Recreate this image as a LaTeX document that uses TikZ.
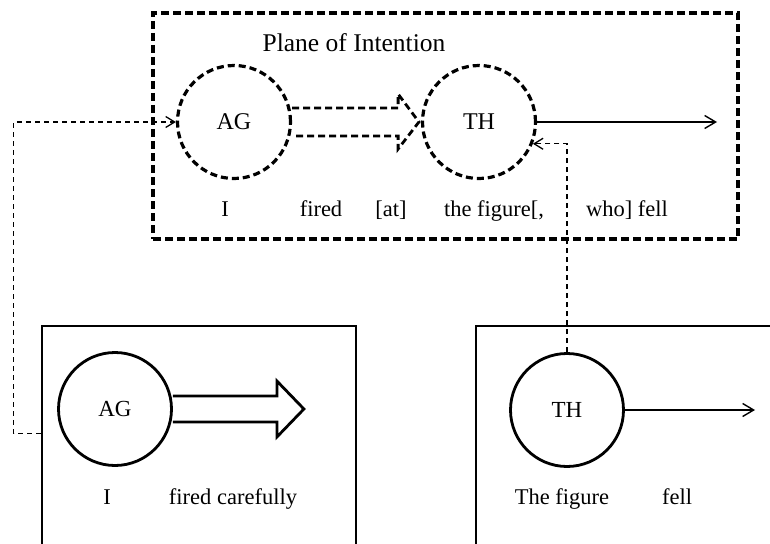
\documentclass[tikz,border=0pt]{standalone}
\usepackage{fontspec}
\setmainfont{Liberation Serif}
\usetikzlibrary{arrows.meta,calc}

\tikzset{
  planebox/.style={draw, line width=3.2pt, dash pattern=on 8pt off 4pt},
  solidbox/.style={draw, line width=2.8pt, rectangle, inner sep=0pt},
  dashrole/.style={circle, draw, line width=3.2pt, dash pattern=on 7pt off 4pt,
                   minimum size=113pt, inner sep=0pt, font=\fontsize{24}{27}\selectfont},
  solidrole/.style={circle, draw, line width=2.8pt,
                   minimum size=113pt, inner sep=0pt, font=\fontsize{23}{26}\selectfont},
  word/.style={font=\fontsize{22.5}{26}\selectfont, inner sep=0pt, anchor=base},
  thinarrow/.style={line width=1.4pt, -{Straight Barb[length=11pt,width=13pt,line width=1.4pt]}},
  linkarrow/.style={line width=1.3pt, dash pattern=on 5pt off 4pt,
                    -{Straight Barb[length=9pt,width=11pt,line width=1.3pt]}},
  fatarrow/.style={line width=2.8pt, line join=miter},
}

\begin{document}
\begin{tikzpicture}[x=1pt,y=-1pt]
\clip (0,0) rectangle (770,543);
\fill[white] (0,0) rectangle (770,543);

% plane of intention
\node[planebox, rectangle, minimum width=585pt, minimum height=226pt, inner sep=0pt]
  (plane) at (445.5,126) {};
\node[font=\fontsize{25.5}{29}\selectfont, anchor=base] (title) at (354,52) {Plane of Intention};

\node[dashrole] (ag) at (234,122) {AG};
\node[dashrole] (th) at (479,122) {TH};

% dashed hollow arrow AG -> TH
\draw[fatarrow, dash pattern=on 7pt off 4pt]
  ($(ag.east)+(0,-14)$) -- ++(106,0) -- ++(0,-14) -- ($(th.west)+(-2,0)$)
  -- ($(ag.east)+(106,27)$) -- ++(0,-13) -- ($(ag.east)+(0,14)$);

\coordinate (thend) at (717,122);
\draw[thinarrow] (th.east) -- (thend);

\node[word] (w1) at (225,216) {I};
\node[word] (w2) at (321,216) {fired};
\node[word] (w3) at (391,216) {[at]};
\node[word] (w4) at (494,216) {the figure[,};
\node[word] (w5) at (627,216) {who] fell};

% lower left scene
\node[solidbox, minimum width=314pt, minimum height=240pt] (lbox) at (199,446) {};
\node[solidrole] (lag) at (115,409) {AG};
\draw[fatarrow]
  ($(lag.east)+(0,-13)$) -- ++(104,0) -- ++(0,-15) -- ++(27,28)
  -- ++(-27,28) -- ++(0,-15) -- ($(lag.east)+(0,13)$);
\node[word] (l1) at (107,504) {I};
\node[word] (l2) at (233,504) {fired carefully};

% lower right scene
\node[solidbox, minimum width=320pt, minimum height=240pt] (rbox) at (636,446) {};
\node[solidrole] (lth) at (567,410) {TH};
\coordinate (lthend) at (755,410);
\draw[thinarrow] (lth.east) -- (lthend);
\node[word] (r1) at (562,504) {The figure};
\node[word] (r2) at (677,504) {fell};

% links between the scenes and the plane
\draw[linkarrow] ($(lbox.north west)+(0,109)$) -- ++(-27,0) |- (ag.west);
\draw[linkarrow] (lth.north) |- (th.-22);
\end{tikzpicture}
\end{document}
